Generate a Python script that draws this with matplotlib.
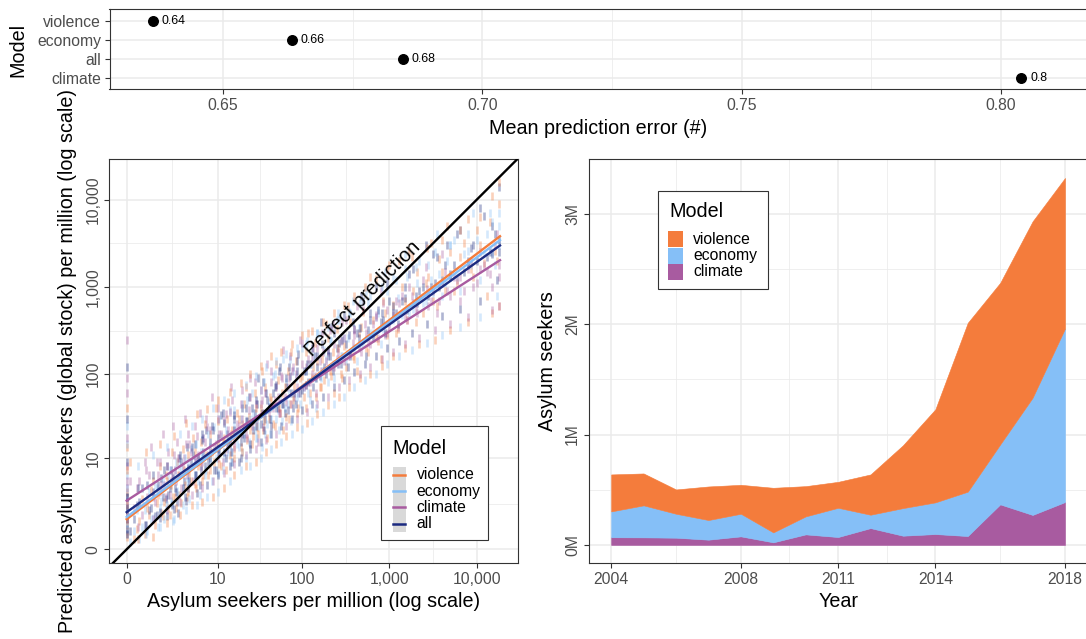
import numpy as np
import matplotlib
matplotlib.use("Agg")
import matplotlib.pyplot as plt
import matplotlib.patches as mpatches
from matplotlib.lines import Line2D

plt.rcParams["font.family"] = ["Liberation Sans", "DejaVu Sans"]

W, H = 1086, 639

# Models and colours
legend_models = ["violence", "economy", "climate", "all"]
colors = {"violence": "#F47C3C", "economy": "#85BFF7",
          "climate": "#A85BA0", "all": "#1B2A80"}

# Mean prediction error per model (bottom to top)
error_models = ["climate", "all", "economy", "violence"]
error_values = [0.8039, 0.6846, 0.6632, 0.6364]

# Observed asylum seekers per million and model predictions (first batch)
observed = [0, 0, 0, 0, 0, 0, 0.3, 0.5, 0.8, 1,
            1.2, 1.5, 1.8, 2, 2.2, 2.6, 2.8, 3, 3.5, 4,
            4, 4.5, 5, 5, 5.5, 6, 6.5, 7, 8, 8,
            9, 10, 10, 11, 12, 13, 14, 15, 16, 17,
            19, 20, 21, 23, 24, 27, 28, 30, 33, 35,
            37, 41, 44, 46, 52, 55, 58, 65, 68, 72,
            80, 85, 90, 100, 105, 112, 125, 135, 140, 160,
            170, 180, 200, 215, 225, 250, 280, 300, 320, 360,
            400, 450, 500, 570, 650, 740, 850, 950, 1100, 1250,
            1400, 1600, 1850, 2100, 2400, 2800, 3200, 3700, 4300, 5000,
            6000, 7200, 8500, 10000, 12000, 14000, 16000, 18000]
pred_violence = [0.6, 3.5, 1.5, 14, 0.9, 40, 0.7, 2.8, 1.5, 5,
                 2.4, 1.6, 6, 2, 4.5, 3, 9, 3.2, 7, 3.5,
                 11, 5, 12, 4.6, 8, 16, 6, 11, 7, 20,
                 9, 15, 28, 8, 18, 30, 11, 22, 13, 35,
                 14, 26, 45, 17, 32, 19, 60, 24, 40, 22,
                 70, 30, 50, 26, 85, 35, 60, 32, 110, 45,
                 75, 140, 40, 95, 55, 180, 60, 120, 230, 70,
                 150, 85, 260, 95, 180, 330, 100, 210, 120, 400,
                 150, 300, 520, 180, 420, 240, 700, 280, 620, 330,
                 1000, 420, 900, 1500, 500, 1300, 700, 2100, 900, 2500,
                 1100, 3200, 1600, 4500, 1900, 5500, 2600, 9000]
pred_economy = [1.2, 0.5, 6, 2.5, 25, 1.0, 1.8, 0.8, 3.5, 1.3,
                4, 2.6, 1.9, 5.5, 2.6, 7, 3.6, 8, 4, 9,
                5.5, 13, 6, 9.5, 5, 12, 18, 7, 14, 9,
                24, 11, 6.5, 19, 10, 14, 38, 12, 25, 15,
                30, 12, 20, 50, 16, 35, 22, 18, 65, 28,
                20, 48, 30, 95, 38, 55, 28, 80, 45, 150,
                50, 90, 60, 200, 70, 110, 50, 160, 90, 280,
                110, 190, 80, 240, 130, 420, 160, 260, 140, 500,
                200, 340, 230, 650, 300, 500, 330, 900, 420, 750,
                480, 1300, 560, 1100, 650, 1800, 850, 1400, 1100, 3000,
                1300, 2400, 1800, 3500, 2400, 7000, 1800, 5000]
pred_climate = [2.5, 8, 1.2, 60, 4, 250, 4, 1.5, 6, 3,
                9, 4.5, 3, 12, 5, 7, 16, 6, 10, 20,
                7, 12, 9, 25, 11, 8, 18, 30, 12, 22,
                14, 40, 10, 20, 28, 13, 18, 50, 17, 26,
                20, 65, 24, 18, 38, 28, 80, 30, 45, 24,
                60, 36, 110, 40, 55, 35, 90, 48, 70, 160,
                55, 100, 60, 230, 70, 120, 80, 200, 95, 140,
                300, 110, 180, 120, 380, 150, 240, 140, 420, 170,
                280, 200, 550, 230, 380, 260, 650, 300, 480, 350,
                800, 420, 650, 500, 1200, 600, 900, 700, 1500, 800,
                1200, 900, 2000, 1100, 1800, 1400, 3000, 1300]
pred_all = [1.8, 0.7, 9, 3, 120, 1.2, 2.2, 4, 1.8, 3.5,
            1.5, 5.5, 2.8, 3.2, 7, 4, 2.5, 10, 5, 7.5,
            4, 9, 15, 6, 10, 7, 12, 22, 10, 16,
            7, 18, 13, 33, 12, 20, 15, 9, 30, 20,
            16, 40, 18, 28, 55, 22, 35, 45, 26, 80,
            30, 42, 25, 60, 40, 120, 45, 70, 38, 95,
            60, 45, 170, 65, 110, 75, 130, 70, 160, 95,
            220, 120, 160, 350, 110, 200, 130, 480, 220, 160,
            330, 260, 700, 320, 260, 550, 420, 1100, 500, 380,
            700, 550, 1600, 650, 1000, 800, 2400, 1000, 1800, 1300,
            4000, 1500, 2800, 2000, 6500, 2500, 4000, 14000]

# Second batch
observed_b = [0, 0, 0, 0, 0.2, 0.4, 0.6, 0.7, 0.9, 1.1,
              1.3, 1.4, 1.6, 1.7, 1.9, 2.1, 2.3, 2.4, 2.7, 2.9,
              3.2, 3.4, 3.7, 3.9, 4.2, 4.8, 5.2, 5.8, 6.2, 6.8,
              7.5, 8.5, 9.5, 10.5, 11.5, 12.5, 13.5, 14.5, 16, 18,
              20, 22, 25, 26, 29, 31, 34, 36, 39, 43,
              48, 50, 54, 60, 63, 70, 75, 78, 88, 95,
              110, 118, 130, 145, 150, 165, 190, 210, 235, 260,
              290, 340, 380, 430, 480, 540, 600, 700, 800, 900,
              1000, 1200, 1500, 1700, 2000, 2600, 3000, 3500, 4000, 4600,
              5500, 6500, 8000, 9000, 11000, 13000, 15000, 17000, 18000, 18000]
pred_violence_b = [2.2, 0.4, 7, 1.1, 0.3, 1.1, 0.5, 2, 3.8, 0.9,
                   3.2, 8, 1.4, 2.5, 5, 1.5, 12, 3, 2, 6,
                   2.4, 13, 4.5, 3, 6.5, 18, 4, 9, 5, 26,
                   6, 12, 40, 8.5, 16, 7, 48, 20, 10, 30,
                   12, 70, 22, 15, 40, 20, 110, 28, 18, 55,
                   25, 130, 40, 22, 70, 30, 180, 50, 35, 90,
                   40, 300, 90, 55, 140, 70, 380, 110, 60, 200,
                   90, 600, 160, 110, 350, 200, 1300, 260, 150, 500,
                   1800, 300, 700, 2500, 400, 1100, 3200, 600, 1500, 5000,
                   900, 2200, 6000, 1300, 3000, 800, 11000, 2000, 600, 16000]
pred_economy_b = [0.8, 4, 1.6, 15, 0.6, 0.3, 1.8, 0.6, 1.2, 4.5,
                  0.8, 2, 5, 1.2, 2.2, 7, 2.4, 1.1, 9, 3.2,
                  7, 2.2, 10, 5, 2.8, 8, 15, 3.2, 11, 6,
                  20, 5, 10, 30, 7, 22, 12, 9, 38, 14,
                  45, 10, 30, 60, 18, 25, 14, 80, 26, 20,
                  100, 30, 22, 150, 40, 60, 28, 110, 55, 45,
                  220, 60, 130, 40, 300, 90, 150, 250, 90, 500,
                  160, 260, 700, 140, 220, 900, 300, 450, 220, 1500,
                  400, 1200, 2400, 500, 1700, 700, 1200, 4000, 800, 2000,
                  3500, 900, 2600, 7000, 1200, 4000, 2500, 800, 7000, 3000]
pred_climate_b = [18, 1.5, 5, 90, 2, 5, 9, 3, 14, 2.5,
                  6, 3.5, 20, 4.5, 8, 3.2, 6, 25, 5, 10,
                  4, 8, 30, 6, 15, 5, 10, 35, 9, 16,
                  11, 55, 15, 20, 9, 34, 22, 70, 14, 25,
                  30, 20, 90, 25, 45, 16, 50, 35, 130, 40,
                  50, 70, 35, 190, 55, 90, 45, 120, 70, 250,
                  75, 150, 100, 60, 200, 110, 140, 320, 120, 180,
                  400, 160, 230, 600, 180, 300, 220, 480, 900, 280,
                  350, 700, 450, 1000, 550, 1700, 700, 500, 2400, 900,
                  1300, 700, 1600, 1000, 2500, 1500, 1000, 4000, 1800, 600]
pred_all_b = [0.5, 3, 30, 2, 1.2, 2.5, 0.9, 4.5, 2, 1.4,
              4.5, 1.7, 3, 7, 1.4, 4, 2.2, 5.5, 3.5, 1.6,
              9, 4, 3, 14, 5, 11, 6, 4.5, 20, 8,
              9, 25, 7, 12, 35, 10, 16, 12, 22, 9,
              20, 28, 15, 40, 25, 90, 35, 22, 50, 30,
              70, 40, 110, 45, 35, 120, 60, 40, 140, 60,
              110, 80, 200, 90, 120, 400, 100, 160, 300, 130,
              250, 120, 400, 300, 800, 160, 500, 1000, 400, 300,
              700, 500, 1000, 1400, 800, 3000, 1000, 2200, 1200, 3000,
              1800, 4500, 2000, 3000, 8000, 2200, 5000, 1200, 3500, 2500]

# Third batch (outer part of the cloud)
observed_c = [0.1, 0.35, 0.65, 1, 1.4, 1.9, 2.5, 3.1, 3.8, 4.6,
              5.4, 6.3, 7.3, 8.8, 10, 12, 14, 16, 19, 22,
              25, 29, 33, 38, 44, 50, 57, 66, 76, 88,
              100, 115, 130, 150, 175, 200, 230, 265, 300, 350,
              400, 460, 530, 610, 700, 820, 950, 1100, 1300, 1500,
              1800, 2200, 2700, 3300, 4000, 5000, 6500, 8000, 11000, 15000]
pred_violence_c = [9, 0.3, 12, 0.4, 15, 1, 19, 1.5, 27, 2.2,
                   34, 2.5, 39, 3, 50, 4, 62, 6, 78, 8,
                   100, 9, 125, 12, 160, 15, 180, 19, 220, 24,
                   280, 27, 315, 34, 400, 44, 500, 55, 630, 70,
                   800, 90, 1000, 100, 1250, 125, 1600, 160, 2000, 200,
                   2200, 220, 2800, 250, 3500, 320, 4500, 400, 6300, 500]
pred_economy_c = [0.2, 8, 0.5, 11, 0.8, 14, 1.2, 20, 1.8, 25,
                  2.2, 30, 3, 40, 3.5, 50, 5, 60, 7, 75,
                  8, 95, 10, 120, 13, 140, 16, 170, 20, 200,
                  23, 240, 28, 300, 36, 350, 45, 420, 55, 520,
                  70, 650, 85, 800, 100, 1000, 130, 1300, 160, 1600,
                  190, 2000, 230, 2500, 280, 3000, 350, 4000, 450, 5500]
pred_climate_c = [5, 0.8, 7, 1.2, 9, 1.8, 11, 2.5, 15, 3.2,
                  19, 4, 24, 5, 30, 6.5, 36, 8.5, 45, 11,
                  55, 13, 65, 17, 80, 20, 95, 25, 110, 30,
                  130, 36, 150, 45, 180, 55, 220, 70, 260, 85,
                  320, 100, 380, 120, 450, 150, 550, 180, 650, 220,
                  800, 260, 950, 320, 1100, 380, 1300, 450, 1600, 550]
pred_all_c = [0.6, 4, 0.9, 6, 1.3, 8, 1.9, 11, 2.6, 14,
              3.4, 17, 4.5, 22, 6, 27, 8, 33, 10, 40,
              13, 50, 16, 60, 20, 75, 25, 90, 30, 110,
              38, 130, 45, 160, 55, 190, 70, 230, 85, 280,
              105, 340, 130, 420, 160, 500, 200, 600, 240, 750,
              300, 900, 380, 1100, 460, 1400, 560, 1800, 700, 2400]

batches = [(observed, {"violence": pred_violence, "economy": pred_economy,
                       "climate": pred_climate, "all": pred_all}),
           (observed_b, {"violence": pred_violence_b, "economy": pred_economy_b,
                         "climate": pred_climate_b, "all": pred_all_b}),
           (observed_c, {"violence": pred_violence_c, "economy": pred_economy_c,
                         "climate": pred_climate_c, "all": pred_all_c})]

# Fitted lines (end points, per million)
fit_x = [0, 18450]
fit_lines = {"violence": [1.213, 3818], "economy": [1.344, 3442],
             "climate": [2.606, 2031], "all": [1.661, 2991]}

# Asylum seekers by year (millions), stacked bottom to top
years = list(range(2004, 2019))
climate_m = [0.070, 0.069, 0.066, 0.048, 0.078, 0.024, 0.096, 0.072,
             0.153, 0.084, 0.099, 0.081, 0.368, 0.272, 0.389]
economy_m = [0.234, 0.290, 0.217, 0.178, 0.205, 0.090, 0.163, 0.265,
             0.121, 0.250, 0.287, 0.402, 0.543, 1.062, 1.572]
violence_m = [0.335, 0.289, 0.220, 0.304, 0.262, 0.404, 0.274, 0.235,
              0.365, 0.569, 0.843, 1.530, 1.464, 1.598, 1.364]

TICK = "#4D4D4D"
EDGE = "#333333"
GRID = "#EBEBEB"
TITLE_SIZE = 14.2
TEXT_SIZE = 11.3

fig = plt.figure(figsize=(W / 100, H / 100), dpi=100)


def fx(x):
    return x / W


def fy(y):
    return 1 - y / H


def px_axes(left, top, right, bottom):
    return fig.add_axes([fx(left), fy(bottom), (right - left) / W, (bottom - top) / H])


def style(ax):
    for s in ax.spines.values():
        s.set_color(EDGE)
        s.set_linewidth(0.8)
    ax.tick_params(which="major", length=3.6, width=0.8, color=EDGE,
                   labelcolor=TICK, labelsize=TEXT_SIZE, pad=2.5)
    ax.tick_params(which="minor", length=0)
    ax.grid(which="major", color=GRID, lw=1.1)
    ax.grid(which="minor", color=GRID, lw=0.55)
    ax.set_axisbelow(True)


def place_xlabel(ax, text, x, y):
    ax.set_xlabel(text, fontsize=TITLE_SIZE)
    ax.xaxis.set_label_coords(fx(x), fy(y), transform=fig.transFigure)
    ax.xaxis.label.set_va("center")


def place_ylabel(ax, text, x, y):
    ax.set_ylabel(text, fontsize=TITLE_SIZE)
    ax.yaxis.set_label_coords(fx(x), fy(y), transform=fig.transFigure)
    ax.yaxis.label.set_va("center")


def log1p10(v):
    v = np.asarray(v, dtype=float)
    return np.log10(np.clip(v + 1, 1e-9, None))


def inv_log1p10(t):
    return 10 ** np.asarray(t, dtype=float) - 1


# ---- top: mean prediction error ----
ax_top = px_axes(109.5, 9.3, 1087.7, 89.3)
style(ax_top)
ypos = np.arange(1, len(error_models) + 1)
ax_top.scatter(error_values, ypos, s=6.9 ** 2, color="black", zorder=3)
for v, y in zip(error_values, ypos):
    ax_top.annotate(f"{round(v, 2):g}", (v, y), xytext=(6.6, 0),
                    textcoords="offset points", va="center", ha="left",
                    fontsize=8.9, color="black")
ax_top.set_xlim(0.6281, 0.8167)
ax_top.set_ylim(0.4, 4.6)
ax_top.set_xticks([0.65, 0.70, 0.75, 0.80], ["0.65", "0.70", "0.75", "0.80"])
ax_top.set_xticks([0.675, 0.725, 0.775], minor=True)
ax_top.set_yticks(ypos, error_models)
place_xlabel(ax_top, "Mean prediction error (#)", 598.5, 128.3)
place_ylabel(ax_top, "Model", 18, 50)

# ---- bottom left: observed vs predicted ----
ax_sc = px_axes(108.9, 159.3, 518.3, 563.3)
ax_sc.set_xscale("function", functions=(log1p10, inv_log1p10))
ax_sc.set_yscale("function", functions=(log1p10, inv_log1p10))
style(ax_sc)
for obs, preds in batches:
    for m in ["violence", "economy", "climate", "all"]:
        ax_sc.plot(obs, preds[m], ls="none", marker="|", ms=5.5,
                   mew=1.9, alpha=0.35, color=colors[m], zorder=2)
perfect = [-0.5, 40000]
ax_sc.plot(perfect, perfect, color="black", lw=1.7, zorder=4)
for m in ["violence", "economy", "climate", "all"]:
    ax_sc.plot(fit_x, fit_lines[m], color=colors[m], lw=1.7, zorder=3)
ax_sc.text(500, 742, "Perfect prediction", rotation=45, rotation_mode="anchor",
           ha="center", va="center", fontsize=TITLE_SIZE, zorder=5)

ax_sc.set_xlim(-0.3734, 29854)
ax_sc.set_ylim(-0.3082, 28973)
major = [0, 10, 100, 1000, 10000]
major_labels = [f"{v:,}" for v in major]
minor = [float(inv_log1p10((log1p10(a) + log1p10(b)) / 2))
         for a, b in zip(major[:-1], major[1:])]
ax_sc.set_xticks(major, major_labels)
ax_sc.set_yticks(major, major_labels)
ax_sc.set_xticks(minor, minor=True)
ax_sc.set_yticks(minor, minor=True)
ax_sc.tick_params(axis="y", labelrotation=90)
for lab in ax_sc.get_yticklabels():
    lab.set_va("center")
place_xlabel(ax_sc, "Asylum seekers per million (log scale)", 313.9, 601.7)
place_ylabel(ax_sc, "Predicted asylum seekers (global stock) per million (log scale)",
             67.5, 361.3)

# ---- bottom right: stacked asylum seekers by year ----
ax_ar = px_axes(588.5, 159.3, 1087.7, 563.3)
style(ax_ar)
areas = ax_ar.stackplot(years, climate_m, economy_m, violence_m,
                        colors=[colors["climate"], colors["economy"], colors["violence"]],
                        zorder=2)
for a in areas:
    a.set_edgecolor(a.get_facecolor())
    a.set_linewidth(0.4)
ax_ar.set_xlim(2003.3, 2018.7)
ax_ar.set_ylim(-0.166, 3.494)
ax_ar.set_xticks([2004, 2008, 2011, 2014, 2018], ["2004", "2008", "2011", "2014", "2018"])
ax_ar.set_xticks([2006, 2009.5, 2012.5, 2016], minor=True)
ax_ar.set_yticks([0, 1, 2, 3], ["0M", "1M", "2M", "3M"])
ax_ar.set_yticks([0.5, 1.5, 2.5], minor=True)
ax_ar.tick_params(axis="y", labelrotation=90)
for lab in ax_ar.get_yticklabels():
    lab.set_va("center")
place_xlabel(ax_ar, "Year", 838.1, 601.7)
place_ylabel(ax_ar, "Asylum seekers", 547.7, 361.3)


# ---- legends ----
def legend_frame(left, top, right, bottom):
    fig.add_artist(mpatches.Rectangle((fx(left), fy(bottom)), (right - left) / W,
                                      (bottom - top) / H, transform=fig.transFigure,
                                      facecolor="white", edgecolor=EDGE, lw=0.8, zorder=5))


def legend_entries(names, title_xy, key_x, key_top, row_h, label_x, kind):
    fig.text(fx(title_xy[0]), fy(title_xy[1]), "Model", fontsize=TITLE_SIZE,
             ha="left", va="center", zorder=6)
    for i, m in enumerate(names):
        top = key_top + i * row_h
        mid = top + row_h / 2
        face = "#D9D9D9" if kind == "line" else colors[m]
        fig.add_artist(mpatches.Rectangle((fx(key_x[0]), fy(top + row_h)),
                                          (key_x[1] - key_x[0]) / W, row_h / H,
                                          transform=fig.transFigure, facecolor=face,
                                          edgecolor="none", zorder=6))
        if kind == "line":
            fig.add_artist(Line2D([fx(key_x[0] + 0.6), fx(key_x[1] - 0.6)], [fy(mid), fy(mid)],
                                  transform=fig.transFigure, color=colors[m], lw=1.8, zorder=7))
        fig.text(fx(label_x), fy(mid), m, fontsize=TEXT_SIZE, ha="left",
                 va="center", zorder=7)


legend_frame(381, 426, 487.7, 540)
legend_entries(legend_models, (392.7, 448), (392.7, 406), 466.7, 16.3, 416.7, "line")

legend_frame(657.7, 191, 768.3, 289.3)
legend_entries(legend_models[:3], (669, 211.7), (668.3, 682.5), 231.5, 16, 693, "fill")

fig.savefig("out.png", dpi=100)
